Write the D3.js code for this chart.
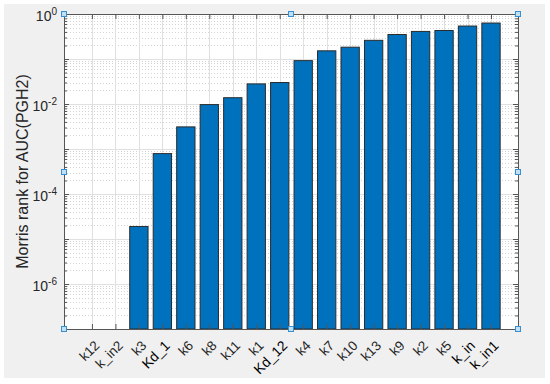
<!DOCTYPE html>
<html>
<head>
<meta charset="utf-8">
<script src="https://cdn.jsdelivr.net/npm/d3@7"></script>
<style>
  html, body { margin: 0; padding: 0; background: #fff; }
  svg { display: block; font-family: "Liberation Sans", Arial, Helvetica, sans-serif; }
</style>
</head>
<body>
<div id="chart"></div>
<script>
// parameter names, left to right
var categories = ["k12","k_in2","k3","Kd_1","k6","k8","k11","k1","Kd_12","k4","k7","k10","k13","k9","k2","k5","k_in","k_in1"];
// Morris rank values (0 = no bar on the log axis)
var values = [0, 0, 1.9e-5, 7.9e-4, 3.1e-3, 9.7e-3, 1.38e-2, 2.8e-2, 3.0e-2, 0.092, 0.152, 0.183, 0.26, 0.35, 0.41, 0.43, 0.54, 0.63];
// labels drawn darker in the original
var darkLabels = ["Kd_1","Kd_12","k_in","k_in1"];
var yDecades = [-7,-6,-5,-4,-3,-2,-1,0];
var yLabelled = [-6,-4,-2,0];

var W = 550, H = 384;
var m = {l:64, r:32, t:14, b:55};

var svg = d3.select("#chart").append("svg")
	.attr("width", W).attr("height", H);

// figure background
svg.append("rect").attr("x",4).attr("y",4).attr("width",541).attr("height",374).style("fill","#f0f0f0");

var x = d3.scaleLinear().domain([-1.19, 18.15]).range([m.l, W-m.r]);
var y = d3.scaleLog().domain([1e-7, 1]).range([H-m.b, m.t]);
var x0 = x.range()[0], x1 = x.range()[1], y0 = y.range()[0], y1 = y.range()[1];

svg.append("rect").attr("x",x0).attr("y",y1).attr("width",x1-x0).attr("height",y0-y1).style("fill","#fff");

var minor = [];
yDecades.forEach(function(d){ if(d<0) d3.range(2,10).forEach(function(k){ minor.push(k*Math.pow(10,d)); }); });
var major = yDecades.map(function(d){ return Math.pow(10,d); });

// minor grid (dotted)
svg.selectAll(".mgrid").data(minor).enter().append("line")
	.attr("x1",x0).attr("x2",x1)
	.attr("y1",function(d){return Math.round(y(d))+0.5}).attr("y2",function(d){return Math.round(y(d))+0.5})
	.style("stroke","#d4d4d4").style("stroke-dasharray","1,2").style("stroke-width",1);
// major grid
svg.selectAll(".ygrid").data(major).enter().append("line")
	.attr("x1",x0).attr("x2",x1)
	.attr("y1",function(d){return Math.round(y(d))+0.5}).attr("y2",function(d){return Math.round(y(d))+0.5})
	.style("stroke","#e0e0e0");
svg.selectAll(".xgrid").data(categories).enter().append("line")
	.attr("y1",y1).attr("y2",y0)
	.attr("x1",function(d,i){return Math.round(x(i))+0.5}).attr("x2",function(d,i){return Math.round(x(i))+0.5})
	.style("stroke","#e0e0e0");

// bars
var bw = 0.78;
svg.selectAll(".bar").data(values).enter().filter(function(d){return d>0})
	.append("rect").attr("class","bar")
	.attr("x",function(d){ return x(values.indexOf(d)-bw/2); })
	.attr("width",function(d){ return x(bw)-x(0); })
	.attr("y",function(d){ return y(d); })
	.attr("height",function(d){ return y0-y(d); })
	.style("fill","#0072bd").style("stroke","#2b2b2b").style("stroke-width",1);

// axes
var idx = d3.range(categories.length);
var axB = svg.append("g").attr("transform","translate(0,"+y0+")")
	.call(d3.axisBottom(x).tickValues(idx).tickSizeInner(-5).tickSizeOuter(0).tickFormat(""));
var axT = svg.append("g").attr("transform","translate(0,"+y1+")")
	.call(d3.axisTop(x).tickValues(idx).tickSizeInner(-5).tickSizeOuter(0).tickFormat(""));
var axL = svg.append("g").attr("transform","translate("+x0+",0)")
	.call(d3.axisLeft(y).tickValues(major).tickSizeInner(-5).tickSizeOuter(0).tickFormat(""));
var axR = svg.append("g").attr("transform","translate("+x1+",0)")
	.call(d3.axisRight(y).tickValues(major).tickSizeInner(-5).tickSizeOuter(0).tickFormat(""));
var axLm = svg.append("g").attr("transform","translate("+x0+",0)")
	.call(d3.axisLeft(y).tickValues(minor).tickSizeInner(-3).tickSizeOuter(0).tickFormat(""));
var axRm = svg.append("g").attr("transform","translate("+x1+",0)")
	.call(d3.axisRight(y).tickValues(minor).tickSizeInner(-3).tickSizeOuter(0).tickFormat(""));
[axB,axT,axL,axR,axLm,axRm].forEach(function(a){
	a.selectAll("path").style("stroke","#555").style("stroke-width",1);
	a.selectAll("line").style("stroke","#555");
});

// y tick labels 10^n
var yl = svg.selectAll(".ylab").data(yLabelled).enter().append("text")
	.attr("x",57).attr("y",function(d){return y(Math.pow(10,d))+7})
	.attr("text-anchor","end").style("font-size","14px").style("fill","#262626");
yl.append("tspan").text("10");
yl.append("tspan").attr("dy",-6).style("font-size","10px").text(function(d){return d});

// x tick labels rotated
svg.selectAll(".xlab").data(categories).enter().append("text")
	.attr("transform",function(d,i){return "translate("+(x(i)+5)+","+(y0+14)+") rotate(-45)"})
	.attr("text-anchor","end").attr("dy","0.35em")
	.style("font-size",function(d){return darkLabels.indexOf(d)>=0 ? "14px" : "13.5px"})
	.style("fill",function(d){return darkLabels.indexOf(d)>=0 ? "#000" : "#262626"})
	.text(function(d){return d});

// y axis title
svg.append("text")
	.attr("transform","translate(22,"+((y0+y1)/2)+") rotate(-90)")
	.attr("text-anchor","middle").attr("dy","0.35em")
	.style("font-size","16px").style("fill","#262626")
	.text("Morris rank for AUC(PGH2)");

// selection handles
var xm = (x0+x1)/2, ym = (y0+y1)/2;
var handles = [[x0,y1],[xm,y1],[x1,y1],[x0,ym],[x1,ym],[x0,y0],[xm,y0],[x1,y0]];
svg.selectAll(".handle").data(handles).enter().append("rect")
	.attr("x",function(d){return Math.round(d[0])-2.5}).attr("y",function(d){return Math.round(d[1])-2.5})
	.attr("width",5).attr("height",5)
	.style("fill","#bfe0f5").style("stroke","#3a8fd0").style("stroke-width",1);
</script>
</body>
</html>
